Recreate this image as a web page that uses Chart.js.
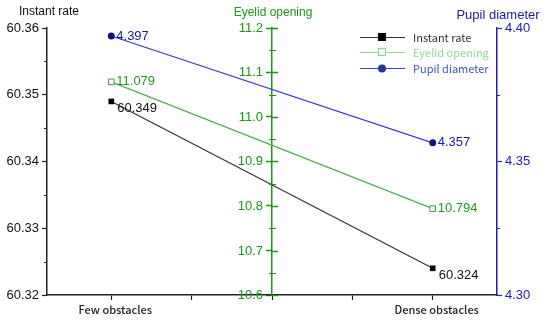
<!DOCTYPE html>
<html>
<head>
<meta charset="utf-8">
<script src="https://cdn.jsdelivr.net/npm/chart.js@4.4.1/dist/chart.umd.min.js"></script>
<style>
  html, body { margin: 0; padding: 0; background: #ffffff; }
  #wrap { width: 550px; height: 323px; }
</style>
</head>
<body>
<div id="wrap"><canvas id="chartObstacles" width="550" height="323"></canvas></div>
<script>
// Datos del gráfico
const categories = ['Few obstacles', 'Dense obstacles'];
const categoryPos = [1, 2];
const instantRate = [60.349, 60.324];
const eyelidOpening = [11.079, 10.794];
const pupilDiameter = [4.397, 4.357];

// Marcas de los ejes
const xTicks = [1, 1.25, 1.5, 1.75, 2];
const rateTicks = [60.32, 60.33, 60.34, 60.35, 60.36];
const rateMinor = [60.325, 60.335, 60.345, 60.355];
const eyelidTicks = [10.6, 10.7, 10.8, 10.9, 11.0, 11.1, 11.2];
const eyelidMinor = [10.65, 10.75, 10.85, 10.95, 11.05, 11.15];
const pupilTicks = [4.30, 4.35, 4.40];
const pupilMinor = [4.325, 4.375];

const COLORS = {
    rate: '#333333',
    rateMark: '#000000',
    eyeLine: '#4fae4f',
    eyeMark: '#3f9a3f',
    eyeText: '#229922',
    eyeAxis: '#1b961b',
    eyeLegend: '#8edb8e',
    pupilLine: '#3c3cd2',
    pupilMark: '#12127e',
    pupilText: '#1a1a9c',
    pupilAxis: '#2020b4',
    pupilLegend: '#3a58b6'
};

const FONT = '"Liberation Sans", Arial, sans-serif';
const CJK = '"Noto Sans CJK SC", "Noto Sans", sans-serif';
const toPoints = arr => arr.map((v, i) => ({ x: categoryPos[i], y: v }));
const setTicks = list => scale => { scale.ticks = list.map(v => ({ value: v })); };

// Títulos, marcas menores, etiquetas de datos y leyenda
const extrasPlugin = {
    id: 'extras',
    afterDraw(chart) {
        const ctx = chart.ctx;
        const s = chart.scales;
        ctx.save();

        // marcas menores
        const minor = (scale, list, x1, x2, color) => {
            ctx.strokeStyle = color;
            ctx.lineWidth = 1;
            list.forEach(v => {
                const y = Math.round(scale.getPixelForValue(v)) + 0.5;
                ctx.beginPath(); ctx.moveTo(x1, y); ctx.lineTo(x2, y); ctx.stroke();
            });
        };
        const lx = s.yRate.right;
        minor(s.yRate, rateMinor, lx - 3, lx, '#222');
        const rx = s.yPupil.left;
        minor(s.yPupil, pupilMinor, rx, rx + 3, COLORS.pupilAxis);
        const mx = s.x.getPixelForValue(1.5);
        minor(s.yEye, eyelidMinor, mx - 3, mx + 4, COLORS.eyeAxis);

        // eje central: mitad derecha de las marcas y etiquetas
        ctx.lineWidth = 1.5;
        ctx.font = '13px ' + FONT;
        ctx.textAlign = 'right';
        ctx.textBaseline = 'middle';
        ctx.fillStyle = COLORS.eyeAxis;
        eyelidTicks.forEach(v => {
            const y = Math.round(s.yEye.getPixelForValue(v)) + 0.5;
            ctx.beginPath(); ctx.moveTo(mx, y); ctx.lineTo(mx + 6, y); ctx.stroke();
            ctx.fillText(v.toFixed(1), mx - 9, y);
        });

        // títulos de los ejes
        ctx.textAlign = 'center';
        ctx.font = '12px ' + FONT;
        ctx.fillStyle = '#111';
        ctx.fillText('Instant rate', 49, 12);
        ctx.fillStyle = COLORS.eyeAxis;
        ctx.fillText('Eyelid opening', mx + 1, 13);
        ctx.fillStyle = COLORS.pupilAxis;
        ctx.font = '13px ' + FONT;
        ctx.fillText('Pupil diameter', 498, 15);

        // etiquetas de datos
        ctx.font = '13px ' + FONT;
        ctx.textAlign = 'left';
        const labelColors = ['#111', COLORS.eyeText, COLORS.pupilText];
        const offsets = [[6, 7], [5, 0], [5, 0]];
        chart.data.datasets.forEach((ds, di) => {
            const meta = chart.getDatasetMeta(di);
            meta.data.forEach((pt, i) => {
                ctx.fillStyle = labelColors[di];
                ctx.fillText(ds.data[i].y.toFixed(3), pt.x + offsets[di][0], pt.y + offsets[di][1]);
            });
        });

        // leyenda
        const rows = [
            { text: 'Instant rate', line: COLORS.rate, txt: '#333', y: 37 },
            { text: 'Eyelid opening', line: COLORS.eyeLegend, txt: COLORS.eyeLegend, y: 52 },
            { text: 'Pupil diameter', line: COLORS.pupilLine, txt: COLORS.pupilLegend, y: 68 }
        ];
        ctx.font = '11px ' + CJK;
        rows.forEach((r, i) => {
            ctx.strokeStyle = r.line;
            ctx.lineWidth = 1.2;
            ctx.beginPath(); ctx.moveTo(360, r.y + 0.5); ctx.lineTo(405, r.y + 0.5); ctx.stroke();
            if (i === 0) {
                ctx.fillStyle = '#000';
                ctx.fillRect(378, r.y - 4, 8, 8);
            } else if (i === 1) {
                ctx.fillStyle = '#fff';
                ctx.fillRect(378, r.y - 4, 8, 8);
                ctx.strokeRect(378.5, r.y - 3.5, 7, 7);
            } else {
                ctx.fillStyle = '#1f3a9e';
                ctx.beginPath(); ctx.arc(382, r.y + 0.5, 4, 0, Math.PI * 2); ctx.fill();
            }
            ctx.fillStyle = r.txt;
            ctx.fillText(r.text, 413, r.y + 1);
        });

        ctx.restore();
    }
};

const tickFont = { family: FONT, size: 13 };

new Chart(document.getElementById('chartObstacles'), {
    type: 'line',
    data: {
        datasets: [{
            label: 'Instant rate',
            data: toPoints(instantRate),
            yAxisID: 'yRate',
            borderColor: COLORS.rate,
            borderWidth: 1.2,
            pointStyle: 'rect',
            pointRadius: 4,
            pointBackgroundColor: COLORS.rateMark,
            pointBorderColor: COLORS.rateMark,
            pointBorderWidth: 0
        }, {
            label: 'Eyelid opening',
            data: toPoints(eyelidOpening),
            yAxisID: 'yEye',
            borderColor: COLORS.eyeLine,
            borderWidth: 1.2,
            pointStyle: 'rect',
            pointRadius: 4,
            pointBackgroundColor: '#ffffff',
            pointBorderColor: COLORS.eyeMark,
            pointBorderWidth: 1
        }, {
            label: 'Pupil diameter',
            data: toPoints(pupilDiameter),
            yAxisID: 'yPupil',
            borderColor: COLORS.pupilLine,
            borderWidth: 1.2,
            pointStyle: 'circle',
            pointRadius: 3.5,
            pointBackgroundColor: COLORS.pupilMark,
            pointBorderColor: COLORS.pupilMark,
            pointBorderWidth: 0
        }]
    },
    options: {
        responsive: false,
        animation: false,
        layout: { padding: { top: 28 } },
        plugins: {
            legend: { display: false },
            tooltip: { enabled: false }
        },
        scales: {
            x: {
                type: 'linear',
                min: 0.8,
                max: 2.2,
                afterBuildTicks: setTicks(xTicks),
                afterFit: scale => { scale.height = 28; },
                grid: { drawOnChartArea: false, tickLength: 5, color: '#222', tickWidth: 1.2 },
                border: { color: '#222', width: 1.5 },
                ticks: {
                    autoSkip: false,
                    maxRotation: 0,
                    padding: 3,
                    labelOffset: 4,
                    color: '#222',
                    font: { family: CJK, size: 11, weight: '500' },
                    callback: value => {
                        const i = categoryPos.indexOf(value);
                        return i >= 0 ? categories[i] : '';
                    }
                }
            },
            yRate: {
                position: 'left',
                min: 60.32,
                max: 60.36,
                afterBuildTicks: setTicks(rateTicks),
                afterFit: scale => { scale.width = 47; },
                grid: { drawOnChartArea: false, tickLength: 5, color: '#222', tickWidth: 1.2 },
                border: { color: '#222', width: 1.5 },
                ticks: { color: '#111', font: tickFont, padding: 3, callback: v => v.toFixed(2) }
            },
            yEye: {
                position: { x: 1.5 },
                min: 10.6,
                max: 11.2,
                afterBuildTicks: setTicks(eyelidTicks),
                grid: { drawOnChartArea: false, tickLength: 5, color: COLORS.eyeAxis, tickWidth: 1.5 },
                border: { color: COLORS.eyeAxis, width: 1.5 },
                ticks: { display: false }
            },
            yPupil: {
                position: 'right',
                min: 4.30,
                max: 4.40,
                afterBuildTicks: setTicks(pupilTicks),
                afterFit: scale => { scale.width = 53; },
                grid: { drawOnChartArea: false, tickLength: 5, color: COLORS.pupilAxis, tickWidth: 1.2 },
                border: { color: COLORS.pupilAxis, width: 1.5 },
                ticks: { color: COLORS.pupilAxis, font: tickFont, padding: 3, callback: v => v.toFixed(2) }
            }
        }
    },
    plugins: [extrasPlugin]
});
</script>
</body>
</html>
